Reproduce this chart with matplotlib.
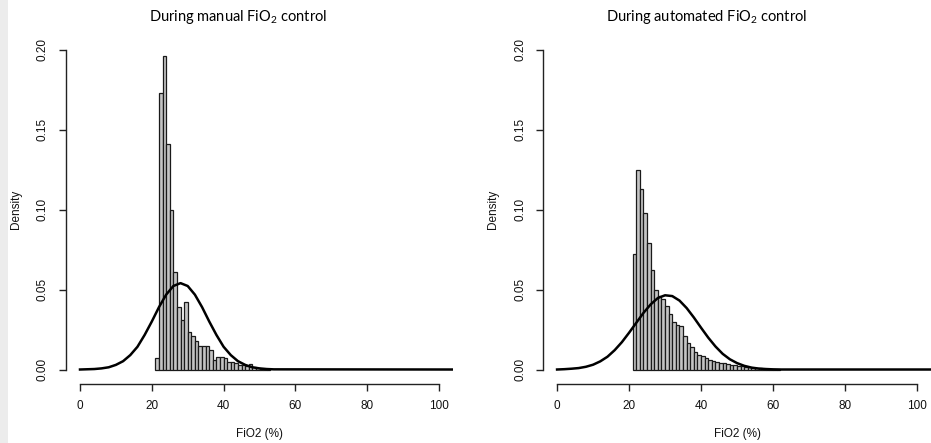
import numpy as np
import matplotlib
matplotlib.use('Agg')
import matplotlib.pyplot as plt
from matplotlib.patches import Rectangle

plt.rcParams['font.family'] = ['Liberation Sans', 'DejaVu Sans']
plt.rcParams['mathtext.default'] = 'regular'

# histogram bins (1 % wide), left edges
bins_manual = np.arange(21, 53)
dens_manual = [0.007, 0.173, 0.196, 0.141, 0.100, 0.061, 0.039, 0.031, 0.042, 0.0237,
               0.021, 0.0177, 0.0148, 0.015, 0.015, 0.012, 0.006, 0.0077, 0.0077, 0.007,
               0.005, 0.0046, 0.004, 0.003, 0.003, 0.002, 0.0035, 0.0015, 0.0008, 0.0005,
               0.0003, 0.0002]

bins_auto = np.arange(21, 62)
dens_auto = [0.072, 0.125, 0.113, 0.098, 0.079, 0.062, 0.050, 0.046, 0.044, 0.040,
             0.035, 0.030, 0.028, 0.027, 0.021, 0.0165, 0.0143, 0.0112, 0.0092, 0.0082,
             0.0072, 0.0062, 0.0054, 0.0048, 0.0043, 0.0038, 0.0033, 0.0030, 0.0026, 0.0022,
             0.0019, 0.0016, 0.0013, 0.0011, 0.0009, 0.0007, 0.0005, 0.0004, 0.0003, 0.0002,
             0.0001]

# fitted normal curves
curve_x_manual = [0, 4, 6, 8, 10, 12, 14, 16, 18, 20, 22, 24, 26, 28, 30, 32, 34, 36,
                  38, 40, 42, 44, 46, 48, 50, 52, 54, 104]
curve_y_manual = [0.0, 0.0003, 0.0007, 0.0014, 0.0029, 0.0052, 0.0090, 0.0142, 0.0216,
                  0.0300, 0.0390, 0.0468, 0.0522, 0.0540, 0.0522, 0.0468, 0.0390, 0.0300,
                  0.0216, 0.0142, 0.0090, 0.0052, 0.0029, 0.0014, 0.0007, 0.0003, 0.0001, 0.0]

curve_x_auto = [0, 2, 4, 6, 8, 10, 12, 14, 16, 18, 20, 22, 24, 26, 28, 30, 32, 34, 36,
                38, 40, 42, 44, 46, 48, 50, 52, 54, 56, 58, 60, 62, 104]
curve_y_auto = [0.0, 0.0002, 0.0005, 0.0009, 0.0017, 0.0030, 0.0051, 0.0080, 0.0121,
                0.0171, 0.0230, 0.0292, 0.0354, 0.0407, 0.0447, 0.0464, 0.0459, 0.0431,
                0.0384, 0.0325, 0.0261, 0.0199, 0.0144, 0.0098, 0.0064, 0.0040, 0.0023,
                0.0012, 0.0006, 0.0003, 0.0001, 0.0, 0.0]

titles = [r'During manual FiO$_2$ control', r'During automated FiO$_2$ control']
x_ticks = [0, 20, 40, 60, 80, 100]
y_ticks = [0.00, 0.05, 0.10, 0.15, 0.20]

fig = plt.figure(figsize=(9.31, 4.43), dpi=100)

# light grey strip on the left edge of the original image
fig.patches.append(Rectangle((0, 0), 8 / 931, 1, transform=fig.transFigure,
                             facecolor='#ececec', edgecolor='none', zorder=0))

ax1 = fig.add_axes([0.0705, 0.137, 0.4165, 0.780])
ax2 = fig.add_axes([0.5829, 0.137, 0.4176, 0.780])

panels = [
    (ax1, bins_manual, dens_manual, curve_x_manual, curve_y_manual),
    (ax2, bins_auto, dens_auto, curve_x_auto, curve_y_auto),
]

for ax, b, d, cx, cy in panels:
    ax.bar(b, d, width=1.0, align='edge', color='#c4c4c4',
           edgecolor='#1a1a1a', linewidth=0.9, zorder=2)
    ax.plot(cx, cy, color='black', linewidth=1.8, zorder=3)

    ax.set_xlim(-4, 104)
    ax.set_ylim(-0.008, 0.208)
    ax.patch.set_alpha(0)

    for s in ['top', 'right']:
        ax.spines[s].set_visible(False)
    ax.spines['left'].set_bounds(0, 0.2)
    ax.spines['bottom'].set_bounds(0, 100)
    ax.spines['bottom'].set_position(('outward', 1))
    for s in ['left', 'bottom']:
        ax.spines[s].set_linewidth(1.0)
        ax.spines[s].set_color('#222222')

    ax.set_xticks(x_ticks)
    ax.set_xticklabels([str(t) for t in x_ticks])
    ax.set_yticks(y_ticks)
    ax.set_yticklabels([f'{t:.2f}' for t in y_ticks], rotation=90, va='center')
    ax.tick_params(axis='both', direction='out', length=5, width=1.0,
                   color='#222222', labelsize=8.5, labelcolor='#111111')
    ax.tick_params(axis='y', pad=7)
    ax.tick_params(axis='x', pad=7)

    ax.set_xlabel('FiO2 (%)', fontsize=8.5, color='#111111', labelpad=11)
    ax.set_ylabel('Density', fontsize=8.5, color='#111111', labelpad=11)

fig.text(238 / 931, 1 - 17 / 443, titles[0], ha='center', va='center',
         fontsize=10.5, family=['Lato', 'DejaVu Sans'])
fig.text(706.7 / 931, 1 - 17 / 443, titles[1], ha='center', va='center',
         fontsize=10.5, family=['Lato', 'DejaVu Sans'])

fig.savefig('out.png', dpi=100)
